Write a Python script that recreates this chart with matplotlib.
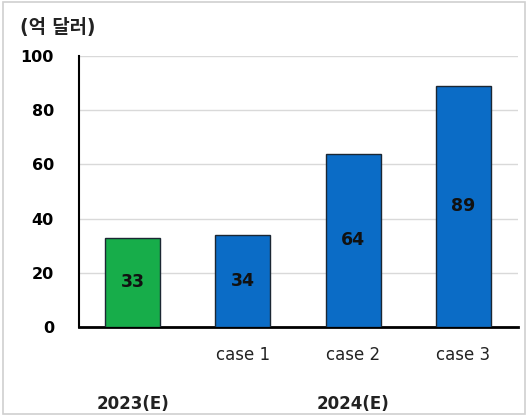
import matplotlib.pyplot as plt
from matplotlib.patches import Rectangle
from matplotlib.transforms import blended_transform_factory

plt.rcParams['font.family'] = ['DejaVu Sans', 'Noto Sans CJK KR']

# 데이터
values = [33, 34, 64, 89]
case_labels = ['', 'case 1', 'case 2', 'case 3']
bar_colors = ['#17ad4a', '#0b6cc6', '#0b6cc6', '#0b6cc6']
group_labels = ['2023(E)', '2024(E)']
group_pos = [0, 2]
yticks = [0, 20, 40, 60, 80, 100]

fig = plt.figure(figsize=(5.27, 4.16), dpi=100)
fig.patches.append(Rectangle((0.006, 0.004), 0.99, 0.99, transform=fig.transFigure,
                             fill=False, edgecolor='#d0d0d0', linewidth=1.2))
ax = fig.add_axes([0.15, 0.214, 0.833, 0.651])

x = range(len(values))
bars = ax.bar(x, values, width=0.5, color=bar_colors, edgecolor='#1b2733', linewidth=1, zorder=3)
for xi, v in zip(x, values):
    ax.text(xi, v / 2, str(v), ha='center', va='center', fontsize=12.5, fontweight='bold',
            color='#111111', zorder=4)

ax.set_xlim(-0.49, 3.5)
ax.set_ylim(0, 100)
ax.set_yticks(yticks)
ax.set_yticklabels([str(t) for t in yticks], fontsize=11.5, fontweight='bold')
ax.tick_params(axis='y', length=0, pad=18)
ax.set_xticks([])
ax.grid(axis='y', color='#d9d9d9', linewidth=1, zorder=0)
ax.spines['top'].set_visible(False)
ax.spines['right'].set_visible(False)
ax.spines['left'].set_linewidth(1.5)
ax.spines['bottom'].set_linewidth(2)

trans = blended_transform_factory(ax.transData, fig.transFigure)
for xi, lab in zip(x, case_labels):
    ax.text(xi, 1 - 355 / 416, lab, transform=trans, ha='center', va='center',
            fontsize=12, color='#222222')
for xi, lab in zip(group_pos, group_labels):
    ax.text(xi, 1 - 404 / 416, lab, transform=trans, ha='center', va='center',
            fontsize=12, fontweight='bold', color='#222222')

fig.text(20 / 527, 1 - 28 / 416, '(억 달러)', ha='left', va='center', fontsize=13.5,
         fontweight='bold', color='#222222')

plt.savefig('out.png', dpi=100)
